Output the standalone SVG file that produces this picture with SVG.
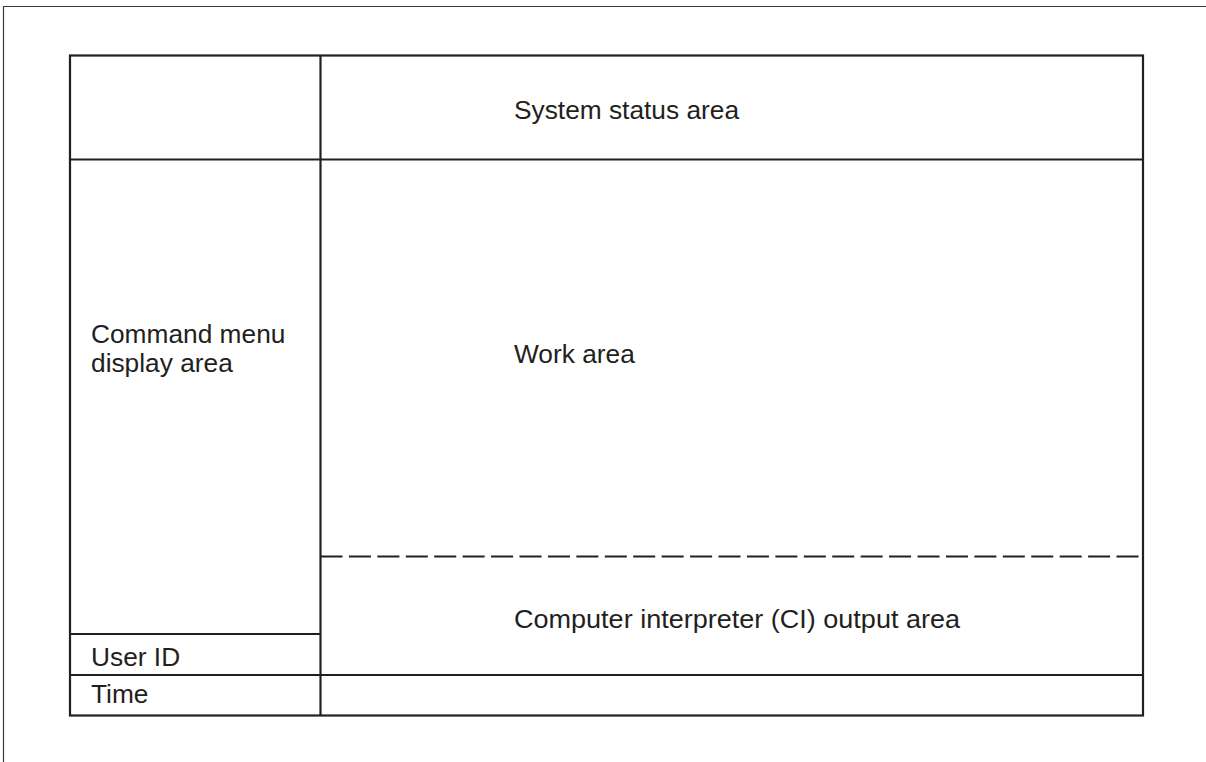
<svg xmlns="http://www.w3.org/2000/svg" width="1206" height="762" viewBox="0 0 1206 762">
<style>
.ln{stroke:#231f20;stroke-width:2.2;fill:none}
.fr{stroke:#3a3a3a;stroke-width:1.2;fill:none}
.t{font-family:"Liberation Sans",Arial,sans-serif;font-size:26.3px;fill:#231f20}
</style>
<rect width="1206" height="762" fill="#fff"/>
<path class="fr" d="M3.5,762 V6.5 H1206"/>
<g id="frame"><rect class="ln" x="70" y="55.5" width="1073" height="660"/></g>
<g id="connectors">
<line class="ln" x1="320.5" y1="55.5" x2="320.5" y2="715.5"/>
<line class="ln" x1="70" y1="159.5" x2="1143" y2="159.5"/>
<line class="ln" x1="70" y1="634" x2="320.5" y2="634"/>
<line class="ln" x1="70" y1="675" x2="1143" y2="675"/>
<line class="ln" x1="320.5" y1="556.5" x2="1139" y2="556.5" stroke-dasharray="22 6.43"/>
</g>
<g id="system-status"><text class="t" x="514" y="119" textLength="225" lengthAdjust="spacingAndGlyphs">System status area</text></g>
<g id="command-menu"><text class="t" x="91" y="343">Command menu</text><text class="t" x="91" y="372">display area</text></g>
<g id="work-area"><text class="t" x="514" y="363">Work area</text></g>
<g id="ci-output"><text class="t" x="514" y="628" textLength="446" lengthAdjust="spacingAndGlyphs">Computer interpreter (CI) output area</text></g>
<g id="user-id"><text class="t" x="91" y="666">User ID</text></g>
<g id="time"><text class="t" x="91" y="703">Time</text></g>
</svg>
